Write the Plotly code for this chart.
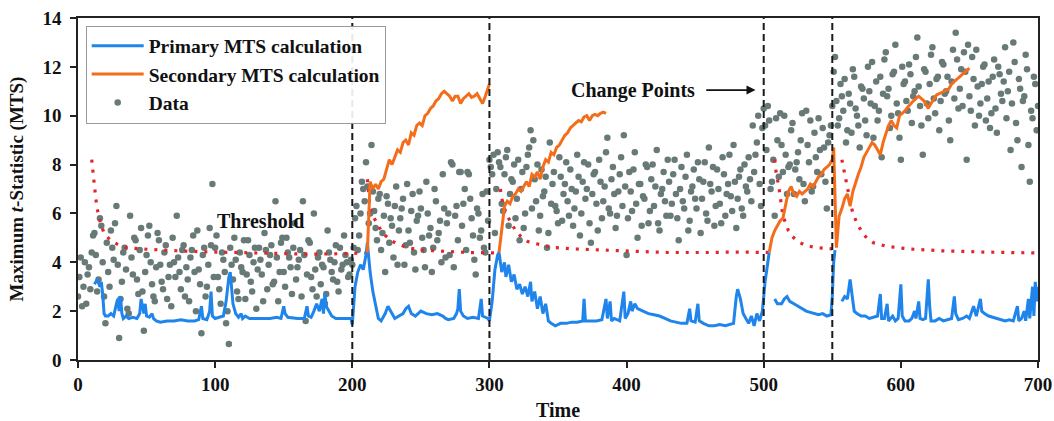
import plotly.graph_objects as go

# ---------------------------------------------------------------------------
# Observed data: even time steps (t = 0, 2, ..., 700)
# ---------------------------------------------------------------------------
data_even = [
    # t = 0 .. 198
    2.6, 4.2, 3.0, 2.3, 3.8, 4.4, 5.2, 2.8, 5.8, 4.0,
    1.5, 3.6, 5.3, 4.1, 6.3, 0.9, 3.2, 4.6, 2.1, 5.9,
    3.5, 4.9, 2.7, 5.4, 1.2, 4.3, 5.5, 3.1, 2.4, 5.2,
    3.9, 2.9, 4.7, 3.4, 2.2, 4.0, 5.9, 3.6, 4.5, 2.6,
    3.3, 4.2, 5.1, 2.0, 3.7, 1.1, 4.6, 3.0, 5.4, 7.2,
    4.6, 3.4, 2.3, 4.1, 1.5, 0.65, 3.9, 5.0, 2.8, 4.4,
    3.6, 2.5, 4.9, 3.2, 4.0, 2.1, 4.6, 3.5, 5.2, 2.9,
    4.3, 3.1, 6.5, 2.4, 4.8, 3.6, 5.0, 4.2, 2.7, 5.6,
    3.8, 4.5, 6.5, 1.6, 4.9, 3.4, 6.0, 2.6, 4.4, 3.9,
    2.3, 5.3, 4.1, 3.3, 4.7, 2.8, 3.7, 5.1, 4.0, 3.5,
    # t = 200 .. 298
    3.9, 5.8, 4.5, 6.0, 7.0, 8.1, 5.6, 8.8, 6.1, 4.9,
    6.8, 5.2, 3.6, 6.4, 5.8, 4.2, 7.1, 5.3, 6.2, 3.9,
    7.2, 4.8, 6.8, 3.7, 5.9, 6.2, 4.5, 7.3, 5.1, 3.6,
    7.0, 4.9, 5.7, 7.6, 4.2, 6.0, 8.1, 3.8, 6.3, 7.7,
    5.5, 7.0, 7.7, 6.6, 5.1, 3.5, 6.0, 5.3, 4.6, 6.9,
    # t = 300 .. 498
    8.2, 7.6, 5.2, 8.5, 7.9, 6.1, 8.3, 5.5, 7.4, 8.0,
    6.6, 4.9, 7.7, 6.0, 8.4, 9.4, 9.0, 6.5, 5.3, 7.8,
    6.9, 4.6, 8.9, 7.2, 6.3, 5.6, 7.5, 6.8, 8.1, 5.9,
    7.0, 6.2, 8.4, 5.1, 7.3, 6.6, 8.0, 4.8, 7.6, 6.4,
    8.2, 5.8, 7.1, 9.1, 6.0, 7.9, 5.4, 6.9, 8.3, 9.2,
    4.3, 7.7, 6.1, 8.5, 5.0, 7.2, 6.7, 8.0, 5.6, 7.4,
    6.3, 8.6, 5.3, 7.0, 6.5, 8.2, 5.9, 7.6, 6.8, 4.9,
    7.9, 6.2, 8.4, 5.7, 7.1, 6.6, 8.1, 5.2, 7.3, 6.0,
    8.7, 6.9, 5.5, 7.8, 6.4, 8.3, 5.9, 7.2, 6.7, 8.8,
    5.4, 7.5, 6.2, 8.0, 6.9, 7.4, 9.6, 8.4, 10.0, 6.3,
    # t = 500 .. 548
    10.3, 8.6, 9.8, 7.3, 5.9, 9.0, 10.1, 7.7, 8.4, 7.9,
    9.4, 6.8, 8.1, 7.4, 10.1, 6.5, 8.8, 9.8, 7.1, 8.3,
    9.9, 7.6, 8.7, 6.2, 9.2,
    # t = 550 .. 700
    10.4, 12.4, 9.6, 11.3, 10.2, 8.9, 10.9, 9.3, 11.6, 10.0,
    8.7, 11.1, 9.8, 12.0, 10.5, 9.1, 11.4, 10.2, 8.3, 12.3,
    10.8, 9.5, 11.7, 12.9, 10.1, 8.2, 11.3, 10.6, 12.1, 9.7,
    11.0, 13.2, 10.4, 8.4, 11.8, 9.9, 12.5, 10.7, 11.5, 9.4,
    12.2, 10.9, 11.6, 9.0, 12.7, 13.4, 10.3, 11.9, 12.6, 8.2,
    10.8, 12.4, 9.6, 11.2, 10.5, 12.0, 9.8, 11.4, 10.1, 12.3,
    9.3, 11.7, 10.6, 12.8, 11.0, 8.6, 13.0, 9.7, 11.5, 7.9,
    10.8, 11.9, 7.3, 9.9, 11.3, 10.4,
]

# Observed data: odd time steps (t = 1, 3, ..., 699)
data_odd = [
    # t = 1 .. 199
    3.4, 2.2, 4.0, 3.5, 2.9, 5.1, 4.3, 3.3, 5.5, 2.6,
    4.8, 3.0, 4.6, 5.6, 3.9, 2.5, 4.4, 3.7, 1.9, 4.2,
    5.0, 3.3, 4.5, 2.8, 3.6, 5.1, 4.0, 2.6, 3.8, 4.9,
    3.2, 4.4, 2.5, 3.9, 5.0, 3.4, 4.2, 2.9, 4.7, 3.8,
    2.4, 4.5, 3.6, 5.3, 3.1, 4.3, 2.6, 3.9, 4.7, 3.4,
    5.1, 2.9, 4.4, 3.6, 2.0, 4.6, 3.3, 4.1, 2.5, 3.8,
    4.9, 3.5, 4.3, 2.8, 4.6, 3.7, 4.1, 2.4, 4.5, 3.9,
    4.7, 3.2, 4.2, 3.6, 5.0, 3.0, 4.4, 3.8, 4.6, 3.3,
    4.1, 2.6, 4.3, 3.5, 4.8, 2.9, 3.7, 4.2, 3.1, 3.8,
    2.7, 4.4, 3.6, 4.0, 3.2, 4.6, 3.9, 4.3, 3.4, 4.1,
    # t = 201 .. 299
    4.6, 6.3, 5.1, 7.3, 6.5, 7.1, 6.0, 6.9, 5.4, 6.6,
    4.5, 5.9, 6.7, 4.8, 5.5, 6.3, 3.9, 5.8, 6.6, 4.7,
    5.3, 6.1, 4.4, 5.7, 6.9, 5.0, 3.8, 6.0, 5.4, 4.6,
    6.5, 5.2, 4.0, 6.2, 5.6, 4.3, 8.0, 5.9, 4.9, 7.7,
    6.4, 4.5, 7.6, 5.8, 4.1, 6.2, 5.0, 6.8, 4.4, 5.7,
    # t = 301 .. 499
    7.9, 8.4, 7.0, 8.1, 6.4, 7.6, 8.6, 6.8, 7.3, 5.8,
    8.2, 7.0, 5.4, 7.9, 8.7, 6.2, 7.4, 8.0, 5.9, 6.7,
    7.5, 5.2, 6.4, 7.7, 6.1, 8.3, 5.7, 7.2, 6.5, 7.8,
    5.5, 6.9, 7.5, 6.0, 8.1, 7.0, 5.6, 6.8, 7.7, 5.3,
    7.3, 6.5, 8.5, 6.2, 7.4, 6.8, 5.9, 7.6, 6.3, 7.1,
    5.8, 6.9, 7.8, 6.4, 7.2, 5.5, 6.6, 7.9, 6.1, 8.0,
    7.1, 5.6, 6.8, 7.7, 5.9, 7.3, 6.4, 8.2, 5.8, 7.0,
    6.5, 7.5, 5.3, 6.9, 7.8, 6.2, 7.4, 6.6, 8.1, 5.7,
    7.2, 7.9, 6.3, 7.0, 5.6, 7.6, 6.8, 8.4, 6.1, 7.3,
    6.6, 7.8, 5.9, 7.1, 8.3, 6.5, 7.7, 8.9, 7.2, 9.5,
    # t = 501 .. 549
    9.6, 10.4, 7.0, 8.2, 9.9, 7.5, 8.8, 10.0, 6.8, 8.0,
    9.7, 7.8, 8.5, 9.0, 7.2, 10.2, 8.1, 6.9, 9.3, 7.7,
    8.6, 9.5, 7.3, 8.9, 9.6,
    # t = 551 .. 699
    11.8, 10.6, 9.9, 10.8, 11.5, 9.4, 10.5, 11.9, 10.3, 9.6,
    11.2, 10.7, 9.2, 11.0, 12.2, 10.4, 9.8, 11.6, 10.9, 12.6,
    11.1, 10.0, 11.8, 10.5, 9.1, 12.0, 11.4, 10.2, 11.7, 10.8,
    12.4, 11.2, 9.6, 11.9, 10.5, 11.3, 12.8, 10.1, 11.6, 10.6,
    12.1, 11.0, 9.8, 11.4, 10.7, 12.3, 11.1, 10.4, 11.8, 12.9,
    10.2, 11.5, 12.7, 10.0, 11.3, 12.1, 10.7, 9.5, 11.6, 10.3,
    12.0, 10.9, 11.4, 9.9, 11.8, 10.5, 12.2, 9.0, 11.1, 10.6,
    12.5, 8.8, 10.2, 11.6, 9.4,
]

data_time = [2 * i for i in range(len(data_even))] + [2 * i + 1 for i in range(len(data_odd))]
data_values = data_even + data_odd

# ---------------------------------------------------------------------------
# Primary MTS calculation (time, value) – restarts after each detection
# ---------------------------------------------------------------------------
primary_seg1 = [
    (12, 3.1), (14, 3.3), (16, 3.0), (17, 3.2), (18, 2.7), (19, 1.9), (20, 1.8),
    (22, 1.8), (24, 1.9), (26, 1.8), (28, 2.3), (29, 2.5), (30, 2.0), (31, 2.6),
    (32, 1.9), (33, 1.7), (35, 1.8), (37, 1.7), (40, 1.75), (43, 1.7), (45, 1.9),
    (46, 2.5), (47, 2.2), (48, 1.9), (49, 2.3), (50, 1.8), (52, 1.75), (54, 1.9),
    (55, 1.7), (57, 1.6), (60, 1.55), (65, 1.6), (70, 1.6), (75, 1.65), (80, 1.6),
    (85, 1.6), (88, 1.65), (90, 2.2), (91, 1.7), (94, 1.65), (96, 2.0), (97, 2.8),
    (98, 1.8), (100, 1.7), (103, 1.75), (106, 1.8), (108, 2.4), (110, 3.4),
    (111, 3.6), (112, 2.9), (113, 2.3), (115, 1.9), (117, 1.75), (119, 1.9),
    (120, 1.7), (122, 1.8), (125, 1.7), (130, 1.7), (135, 1.7), (140, 1.7),
    (145, 1.75), (148, 1.7), (150, 2.2), (151, 1.9), (153, 1.75), (160, 1.7),
    (165, 1.7), (167, 2.2), (168, 1.8), (170, 1.75), (172, 2.0), (174, 2.3),
    (176, 2.0), (178, 2.5), (179, 1.9), (180, 2.7), (181, 2.2), (183, 2.0),
    (185, 1.8), (188, 1.7), (192, 1.7), (196, 1.7), (199, 1.7), (200, 1.45),
    (202, 3.0), (204, 3.6), (206, 3.9), (208, 3.7), (210, 4.3), (211, 4.8),
    (213, 3.6), (215, 2.8), (217, 2.2), (219, 1.7), (221, 1.6), (224, 1.9),
    (226, 2.2), (228, 2.0), (231, 1.7), (234, 1.8), (237, 1.9), (239, 2.1),
    (241, 2.2), (243, 1.9), (246, 1.8), (250, 2.0), (254, 1.9), (258, 1.85),
    (262, 1.9), (266, 1.8), (268, 1.7), (270, 1.65), (274, 1.7), (276, 1.9),
    (277, 2.1), (278, 2.9), (279, 2.0), (281, 1.8), (284, 1.7), (288, 1.75),
    (292, 1.7), (294, 2.5), (295, 1.8), (297, 1.75), (299, 1.7), (300, 1.6),
    (302, 2.4), (304, 3.7), (306, 4.3), (307, 4.4), (309, 3.6), (311, 4.0),
    (312, 3.4), (314, 3.9), (316, 3.2), (318, 3.5), (320, 2.9), (322, 3.1),
    (324, 2.7), (326, 3.0), (328, 2.6), (330, 3.2), (331, 2.4), (333, 2.8),
    (335, 2.1), (337, 2.6), (339, 1.9), (341, 2.3), (343, 1.6), (345, 1.5),
    (348, 1.4), (352, 1.5), (356, 1.5), (360, 1.55), (364, 1.55), (368, 1.6),
    (369, 2.5), (370, 1.6), (374, 1.6), (378, 1.6), (382, 1.65), (384, 2.3),
    (385, 2.5), (386, 1.7), (388, 2.4), (389, 1.6), (391, 1.7), (395, 1.6),
    (398, 2.8), (399, 1.7), (401, 1.9), (403, 2.4), (404, 2.0), (406, 2.3),
    (408, 2.1), (412, 2.0), (416, 1.9), (420, 1.85), (424, 1.8), (428, 1.7),
    (432, 1.6), (436, 1.55), (440, 1.5), (444, 1.5), (446, 2.1), (447, 1.6),
    (450, 1.55), (452, 2.3), (453, 1.6), (456, 1.5), (460, 1.4), (464, 1.4),
    (468, 1.45), (472, 1.4), (476, 1.45), (478, 1.5), (480, 2.6), (481, 2.9),
    (483, 2.5), (485, 1.9), (487, 1.7), (489, 1.5), (491, 1.8), (493, 1.4),
    (495, 1.9), (497, 1.6), (499, 2.0), (501, 3.2), (503, 4.0), (504, 4.4),
]
primary_seg2 = [
    (508, 2.5), (510, 2.3), (513, 2.3), (515, 2.5), (517, 2.6), (519, 2.4),
    (522, 2.3), (525, 2.2), (528, 2.1), (531, 2.0), (534, 1.95), (537, 1.9),
    (540, 1.85), (543, 1.9), (546, 1.8), (549, 1.85), (550, 2.6), (551, 4.0),
    (552, 4.5),
]
primary_seg3 = [
    (557, 2.4), (559, 2.6), (561, 2.5), (563, 3.3), (565, 2.4), (566, 2.0),
    (568, 1.9), (571, 1.8), (574, 1.8), (577, 1.7), (580, 1.75), (583, 1.8),
    (585, 2.7), (586, 1.7), (588, 1.7), (590, 2.3), (591, 1.6), (594, 1.8),
    (596, 1.6), (598, 1.7), (600, 3.1), (601, 1.8), (603, 1.6), (606, 1.6),
    (608, 1.7), (610, 2.0), (611, 1.7), (613, 2.4), (614, 1.7), (616, 1.65),
    (618, 1.7), (620, 3.3), (621, 2.2), (622, 1.6), (625, 1.6), (628, 1.7),
    (631, 1.6), (634, 1.65), (637, 1.7), (639, 2.6), (640, 1.9), (642, 1.65),
    (645, 1.7), (648, 1.8), (650, 1.7), (653, 2.2), (655, 1.8), (658, 2.5),
    (659, 2.0), (661, 1.9), (664, 1.8), (667, 1.75), (670, 1.7), (673, 1.65),
    (676, 1.6), (679, 1.65), (682, 1.6), (685, 2.2), (686, 1.6), (688, 1.7),
    (690, 2.0), (691, 1.6), (693, 2.5), (694, 1.7), (696, 3.0), (697, 1.8),
    (698, 3.2), (699, 2.4), (700, 3.0),
]

# ---------------------------------------------------------------------------
# Secondary MTS calculation (time, value)
# ---------------------------------------------------------------------------
secondary_seg1 = [
    (211, 4.4), (212, 6.0), (213, 7.3), (215, 7.0), (217, 7.2), (219, 7.0),
    (221, 7.3), (223, 7.4), (225, 7.8), (227, 8.2), (229, 8.0), (231, 8.3),
    (233, 8.6), (235, 8.5), (237, 8.9), (239, 9.0), (241, 8.8), (243, 9.3),
    (245, 9.2), (247, 9.6), (249, 9.7), (251, 9.6), (253, 10.0), (255, 10.1),
    (257, 10.3), (259, 10.4), (261, 10.6), (263, 10.7), (265, 10.9), (267, 11.0),
    (269, 10.9), (271, 10.8), (273, 10.6), (275, 10.8), (277, 10.8), (279, 10.5),
    (281, 10.7), (283, 10.8), (285, 10.9), (287, 10.75), (289, 10.8),
    (291, 10.9), (293, 10.7), (295, 10.5), (297, 10.8), (299, 11.2), (300, 11.3),
]
secondary_seg2 = [
    (307, 4.4), (309, 5.5), (311, 6.3), (313, 6.5), (315, 6.4), (317, 6.7),
    (319, 6.8), (321, 7.0), (323, 6.9), (325, 7.1), (327, 7.3), (329, 7.1),
    (331, 7.6), (333, 7.5), (335, 7.7), (337, 7.4), (339, 7.9), (341, 8.2),
    (343, 8.1), (345, 8.5), (347, 8.4), (349, 8.7), (351, 8.8), (353, 9.0),
    (355, 9.2), (357, 9.3), (359, 9.5), (361, 9.6), (363, 9.7), (365, 9.8),
    (367, 9.75), (369, 9.95), (371, 10.0), (373, 9.8), (375, 10.0),
    (377, 10.05), (379, 10.0), (381, 10.1), (383, 10.15), (385, 10.1),
]
secondary_seg3 = [
    (504, 4.4), (506, 5.0), (508, 5.3), (510, 5.5), (512, 5.7), (514, 5.8),
    (516, 6.3), (518, 6.9), (520, 7.1), (522, 6.8), (524, 6.7), (526, 6.9),
    (528, 6.8), (530, 6.9), (532, 7.0), (534, 7.2), (536, 7.1), (538, 7.3),
    (540, 7.5), (542, 7.6), (544, 7.8), (546, 7.9), (548, 8.0), (550, 8.2),
    (551, 8.7), (553, 4.6), (555, 5.9), (557, 6.2), (559, 6.6), (561, 6.8),
    (563, 6.3), (565, 6.9), (567, 7.3), (569, 7.6), (571, 7.9), (573, 8.3),
    (575, 8.5), (577, 8.7), (579, 8.9), (581, 8.8), (583, 8.6), (585, 8.4),
    (587, 8.9), (589, 9.3), (591, 9.6), (593, 9.8), (595, 9.6), (597, 9.5),
    (599, 10.0), (601, 10.1), (603, 10.2), (605, 10.35), (607, 10.5),
    (609, 10.6), (611, 10.7), (613, 10.8), (615, 10.7), (617, 10.6),
    (619, 10.4), (620, 10.3), (622, 10.5), (624, 10.7), (626, 10.85),
    (628, 10.9), (630, 10.95), (633, 11.05), (635, 11.1), (637, 11.3),
    (639, 11.4), (641, 11.5), (643, 11.6), (645, 11.7), (647, 11.8),
    (650, 11.95),
]

# ---------------------------------------------------------------------------
# Detection threshold (time, value), one decaying curve per restart
# ---------------------------------------------------------------------------
threshold_seg1 = [
    (10, 8.2), (11, 7.6), (12, 7.1), (13, 6.6), (14, 6.2), (15, 5.9), (17, 5.5),
    (19, 5.2), (22, 5.0), (25, 4.85), (30, 4.7), (35, 4.6), (45, 4.55),
    (60, 4.5), (80, 4.45), (100, 4.42), (130, 4.38), (150, 4.35), (170, 4.33),
    (190, 4.35), (210, 4.38),
]
threshold_seg2 = [
    (211, 7.4), (212, 6.7), (213, 6.2), (215, 5.9), (218, 5.6), (221, 5.3),
    (224, 5.1), (228, 4.9), (233, 4.75), (240, 4.6), (250, 4.5), (265, 4.45),
    (285, 4.4), (306, 4.38),
]
threshold_seg3 = [
    (308, 7.0), (309, 6.6), (311, 6.2), (313, 5.9), (316, 5.6), (319, 5.3),
    (323, 5.05), (328, 4.85), (335, 4.75), (345, 4.62), (360, 4.55),
    (380, 4.5), (400, 4.45), (430, 4.4), (460, 4.4), (480, 4.42), (506, 4.4),
]
threshold_seg4 = [
    (508, 8.2), (509, 7.7), (511, 7.1), (513, 6.4), (514, 5.9), (516, 5.6),
    (518, 5.3), (521, 5.05), (525, 4.85), (530, 4.7), (538, 4.6), (550, 4.55),
]
threshold_seg5 = [
    (557, 8.2), (559, 7.6), (561, 7.0), (563, 6.5), (565, 6.0), (568, 5.6),
    (571, 5.3), (575, 5.0), (580, 4.8), (590, 4.65), (605, 4.55), (630, 4.47),
    (660, 4.42), (700, 4.38),
]

change_points = [200, 300, 500, 550]

x_ticks = [0, 100, 200, 300, 400, 500, 600, 700]
y_ticks = [0, 2, 4, 6, 8, 10, 12, 14]


def join_segments(*segments):
    """Concatenate (t, v) segments, separating them with gaps."""
    xs, ys = [], []
    for i, seg in enumerate(segments):
        if i:
            xs.append(None)
            ys.append(None)
        xs.extend(p[0] for p in seg)
        ys.extend(p[1] for p in seg)
    return xs, ys


FONT = "Liberation Serif, Times New Roman, serif"
BLUE = "#1f84ec"
ORANGE = "#f46d1b"
GRAY = "#687a77"
RED = "#e3242b"
INK = "#111111"

fig = go.Figure()

fig.add_trace(go.Scatter(
    x=data_time, y=data_values, mode="markers", name="<b>Data</b>",
    marker=dict(color=GRAY, size=6.5), legendrank=3,
))

tx, ty = join_segments(threshold_seg1, threshold_seg2, threshold_seg3,
                       threshold_seg4, threshold_seg5)
fig.add_trace(go.Scatter(
    x=tx, y=ty, mode="lines", name="Threshold", showlegend=False,
    line=dict(color=RED, width=3.2, dash="3px,7px"),
))

px_, py_ = join_segments(primary_seg1, primary_seg2, primary_seg3)
fig.add_trace(go.Scatter(
    x=px_, y=py_, mode="lines", name="<b>Primary MTS calculation</b>",
    line=dict(color=BLUE, width=3), legendrank=1,
))

sx, sy = join_segments(secondary_seg1, secondary_seg2, secondary_seg3)
fig.add_trace(go.Scatter(
    x=sx, y=sy, mode="lines", name="<b>Secondary MTS calculation</b>",
    line=dict(color=ORANGE, width=3), legendrank=2,
))

for cp in change_points:
    fig.add_shape(type="line", xref="x", yref="y", x0=cp, x1=cp, y0=0, y1=14,
                  line=dict(color="#1a1a1a", width=2, dash="7px,4px"), layer="above")

fig.add_annotation(x=133, y=5.7, text="<b>Threshold</b>", showarrow=False,
                   font=dict(family=FONT, size=20, color=INK))
fig.add_annotation(x=405, y=11.05, text="<b>Change Points</b>", showarrow=False,
                   font=dict(family=FONT, size=20, color=INK))
fig.add_annotation(x=494, y=11.05, ax=457, ay=11.05, axref="x", ayref="y",
                   xref="x", yref="y", text="", showarrow=True,
                   arrowhead=2, arrowsize=1, arrowwidth=1.8, arrowcolor=INK)

axis_common = dict(
    showline=True, linecolor="#222", linewidth=1.5, mirror=True,
    ticks="outside", ticklen=6, tickwidth=1.5, tickcolor="#222",
    showgrid=False, zeroline=False, automargin=False,
    tickfont=dict(family=FONT, size=19, color=INK),
)

fig.update_xaxes(range=[0, 700], tickvals=x_ticks,
                 ticktext=[f"<b>{v}</b>" for v in x_ticks],
                 title=dict(text="<b>Time</b>", standoff=10,
                            font=dict(family=FONT, size=20, color=INK)),
                 **axis_common)
fig.update_yaxes(range=[0, 14], tickvals=y_ticks,
                 ticktext=[f"<b>{v}</b>" for v in y_ticks],
                 ticklabelstandoff=5,
                 title=dict(text="<b>Maximum <i>t</i>-Statistic (MTS)</b>", standoff=14,
                            font=dict(family=FONT, size=19, color=INK)),
                 **axis_common)

fig.update_layout(
    width=1054, height=421,
    margin=dict(l=78, r=16, t=18, b=61),
    paper_bgcolor="white", plot_bgcolor="white",
    font=dict(family=FONT, color=INK),
    legend=dict(
        x=0.008, y=0.978, xanchor="left", yanchor="top",
        bgcolor="rgba(255,255,255,0.9)", bordercolor="#9a9a9a", borderwidth=1,
        font=dict(family=FONT, size=19.5, color=INK),
        tracegroupgap=0, itemwidth=52,
    ),
)

fig.write_html("out.html")
